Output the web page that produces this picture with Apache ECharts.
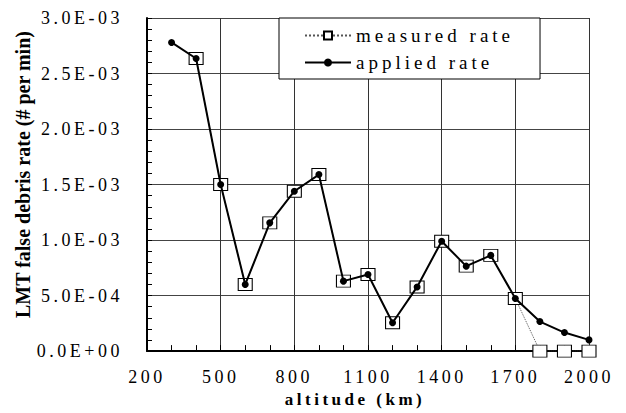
<!DOCTYPE html>
<html>
<head>
<meta charset="utf-8">
<script src="https://cdn.jsdelivr.net/npm/echarts@6/dist/echarts.min.js"></script>
<style>
  html, body { margin: 0; padding: 0; background: #fff; }
  #chart { width: 626px; height: 413px; }
  /* 原图文字字距较宽 */
  #chart text { letter-spacing: 3.5px; }
  #chart text[style*="20px"] { letter-spacing: 0; }
  #chart text[style*="19px"] { letter-spacing: 4px; }
</style>
</head>
<body>
<div id="chart"></div>
<script>
// 高度 (km)
var altitudes = [300, 400, 500, 600, 700, 800, 900, 1000, 1100, 1200, 1300, 1400, 1500, 1600, 1700, 1800, 1900, 2000];
// applied rate
var appliedRate = [2.78e-3, 2.635e-3, 1.50e-3, 0.60e-3, 1.155e-3, 1.44e-3, 1.59e-3, 0.63e-3, 0.69e-3, 0.255e-3, 0.578e-3, 0.99e-3, 0.765e-3, 0.862e-3, 0.474e-3, 0.266e-3, 0.167e-3, 0.101e-3];
// measured rate (300 km 没有测量值)
var measuredAlt = [400, 500, 600, 700, 800, 900, 1000, 1100, 1200, 1300, 1400, 1500, 1600, 1700, 1800, 1900, 2000];
var measuredRate = [2.635e-3, 1.50e-3, 0.60e-3, 1.155e-3, 1.44e-3, 1.59e-3, 0.63e-3, 0.69e-3, 0.255e-3, 0.578e-3, 0.99e-3, 0.765e-3, 0.862e-3, 0.474e-3, 0, 0, 0];
// y轴刻度文字
var yTickLabels = ['0.0E+00', '5.0E-04', '1.0E-03', '1.5E-03', '2.0E-03', '2.5E-03', '3.0E-03'];

function pairs(xs, ys) {
  return xs.map(function (x, i) { return [x, ys[i]]; });
}

var font = "'Liberation Serif', 'Times New Roman', serif";
var chart = echarts.init(document.getElementById('chart'), null, { renderer: 'svg' });

var option = {
  animation: false,
  backgroundColor: '#fff',
  textStyle: { fontFamily: font, color: '#000' },
  grid: { left: 147, right: 37, top: 18, bottom: 60 },
  legend: {
    orient: 'vertical',
    left: 279,
    top: 18,
    padding: [8, 78, 7, 25],
    itemGap: 8,
    itemWidth: 46,
    itemHeight: 10,
    backgroundColor: '#fff',
    borderColor: '#000',
    borderWidth: 1,
    borderRadius: 0,
    textStyle: { fontFamily: font, fontSize: 19, color: '#000' },
    data: ['measured rate', 'applied rate']
  },
  xAxis: {
    type: 'value',
    min: 200,
    max: 2000,
    interval: 300,
    name: 'altitude (km)',
    nameLocation: 'middle',
    nameGap: 35,
    nameTextStyle: { fontFamily: font, fontSize: 17, fontWeight: 'bold', color: '#000', padding: [0, 26, 0, 0] },
    axisLine: { lineStyle: { color: '#000', width: 2 } },
    axisTick: { show: true, inside: true, length: 6, lineStyle: { color: '#000' } },
    minorTick: { show: true, splitNumber: 3, length: 6, lineStyle: { color: '#000' } },
    axisLabel: {
      fontFamily: font, fontSize: 18, color: '#000', margin: 17,
      formatter: function (v) { return String(v); }
    },
    splitLine: { show: true, lineStyle: { color: '#333', width: 1 } }
  },
  yAxis: {
    type: 'value',
    min: 0,
    max: 3e-3,
    interval: 5e-4,
    name: 'LMT false debris rate (# per min)',
    nameLocation: 'middle',
    nameRotate: 90,
    nameGap: 114,
    nameTextStyle: { fontFamily: font, fontSize: 20, fontWeight: 'bold', color: '#000', padding: [0, 0, 0, 20] },
    axisLine: { show: true, lineStyle: { color: '#000', width: 2 } },
    axisTick: { show: true, inside: true, length: 5, lineStyle: { color: '#000' } },
    minorTick: { show: true, splitNumber: 5, length: 5, lineStyle: { color: '#000' } },
    axisLabel: {
      fontFamily: font, fontSize: 18, color: '#000', margin: 24,
      formatter: function (v) { return yTickLabels[Math.round(v / 5e-4)]; }
    },
    splitLine: { show: true, lineStyle: { color: '#444', width: 1 } }
  },
  series: [
    {
      name: 'measured rate',
      type: 'line',
      data: pairs(measuredAlt, measuredRate),
      symbol: 'rect',
      symbolSize: [14, 12],
      itemStyle: { color: '#fff', borderColor: '#000', borderWidth: 1 },
      lineStyle: { color: '#555', width: 1, type: 'dotted' },
      z: 2
    },
    {
      name: 'applied rate',
      type: 'line',
      data: pairs(altitudes, appliedRate),
      symbol: 'circle',
      symbolSize: 7,
      itemStyle: { color: '#000' },
      lineStyle: { color: '#000', width: 2 },
      z: 3
    }
  ]
};

chart.setOption(option);
</script>
</body>
</html>
